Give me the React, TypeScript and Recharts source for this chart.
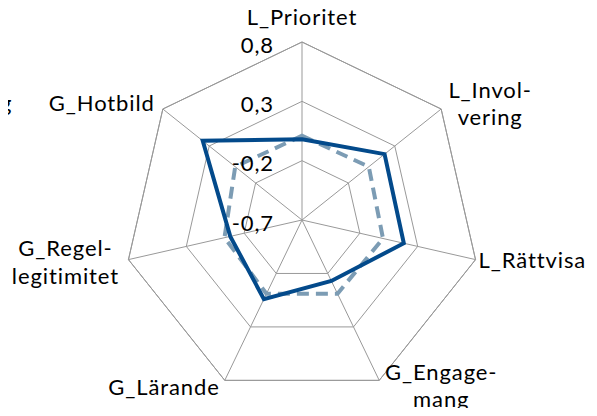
import React from 'react';
import { RadarChart, Radar, PolarGrid, PolarAngleAxis, PolarRadiusAxis } from 'recharts';

// Axis categories (line breaks as in the original labels)
const categories = ['L_Prioritet', 'L_Involvering', 'L_Rättvisa', 'G_Engagemang', 'G_Lärande', 'G_Regellegitimitet', 'G_Hotbild'];
const categoryLines = [
  ['L_Prioritet'],
  ['L_Invol-', 'vering'],
  ['L_Rättvisa'],
  ['G_Engage-', 'mang'],
  ['G_Lärande'],
  ['G_Regel-', 'legitimitet'],
  ['G_Hotbild'],
];

// Series values
const seriesSolid = [-0.02, 0.19, 0.18, -0.13, 0.04, -0.08, 0.37];
const seriesDashed = [0.01, 0.02, 0.0, -0.01, -0.01, -0.03, 0.02];

// Radial axis: minimum at the centre, maximum at the outer ring, tick labels
const axisMin = -0.7;
const axisMax = 0.8;
const radiusTicks = [-0.7, -0.2, 0.3, 0.8];

// recharts keeps "nicing" [-0.7, 0.8] out to a wider domain, so feed it
// fractions of the axis span (0..1) and label the ticks back in real units
const toFrac = (v: number) => (v - axisMin) / (axisMax - axisMin);
const data = categories.map((c, i) => ({
  axis: c,
  solid: toFrac(seriesSolid[i]),
  dashed: toFrac(seriesDashed[i]),
}));

const CX = 302;
const CY = 220;
const R = 178;
const FONT = 'Lato, "Open Sans", sans-serif';
const FS = 22;
const LS = 0.9;

// label placement relative to each outer vertex
const labelLayout = [
  { dx: 0, dy: [-17], anchor: 'middle' },
  { dx: 49, dy: [-11, 16], anchor: 'middle' },
  { dx: 3, dy: [8.5], anchor: 'start' },
  { dx: 62, dy: [0, 27], anchor: 'middle' },
  { dx: -5, dy: [15], anchor: 'end' },
  { dx: -63, dy: [-3.5, 24.5], anchor: 'middle' },
  { dx: -8, dy: [2], anchor: 'end' },
];

const AngleTick = (props: any) => {
  const { payload, index } = props;
  const rad = (Math.PI / 180) * payload.coordinate;
  const vx = CX + R * Math.cos(rad);
  const vy = CY - R * Math.sin(rad);
  const lay = labelLayout[index];
  const lines = categoryLines[index];
  return (
    <text x={vx + lay.dx} y={vy} textAnchor={lay.anchor} fill="#000" fontSize={FS} letterSpacing={LS} fontFamily={FONT}>
      {lines.map((l, k) => (
        <tspan key={k} x={vx + lay.dx} y={vy + lay.dy[k]}>{l}</tspan>
      ))}
    </text>
  );
};

const RadiusTick = (props: any) => {
  const { x, y, payload } = props;
  const v = Math.round((axisMin + payload.value * (axisMax - axisMin)) * 10) / 10;
  return (
    <text x={x - 28} y={y + 2} textAnchor="end" dominantBaseline="central" fill="#000" fontSize={FS} letterSpacing={LS} fontFamily={FONT}>
      {String(v).replace('.', ',')}
    </text>
  );
};

export default function App() {
  const tickFracs = radiusTicks.map(toFrac);
  return (
    <div style={{ margin: -8, position: 'relative', width: 597, height: 416, background: '#fff' }}>
      <RadarChart width={597} height={416} data={data} cx={CX} cy={CY} outerRadius={R} startAngle={90} endAngle={-270}>
        <PolarGrid gridType="polygon" stroke="#999999" strokeWidth={1} polarRadius={tickFracs.map((f) => f * R)} />
        <PolarAngleAxis dataKey="axis" tick={<AngleTick />} tickLine={false} axisLine={{ stroke: '#999999' }} />
        <PolarRadiusAxis
          type="number"
          angle={90}
          domain={[0, 1]}
          allowDataOverflow
          ticks={tickFracs}
          axisLine={false}
          tickLine={false}
          tick={<RadiusTick />}
        />
        <Radar dataKey="dashed" stroke="#7C9CB4" strokeWidth={4} strokeDasharray="12 7" fill="none" fillOpacity={0} isAnimationActive={false} />
        <Radar dataKey="solid" stroke="#034A8B" strokeWidth={4} fill="none" fillOpacity={0} isAnimationActive={false} />
      </RadarChart>
      <svg style={{ position: 'absolute', left: 0, top: 0 }} width={20} height={130}>
        <text x={0} y={111} fontSize={FS} fontFamily={FONT} fill="#000">g</text>
      </svg>
    </div>
  );
}
